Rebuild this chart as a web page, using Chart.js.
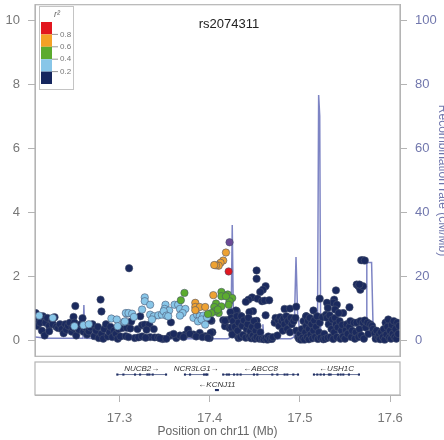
<!DOCTYPE html>
<html>
<head>
<meta charset="utf-8">
<title>rs2074311</title>
<script src="https://cdn.jsdelivr.net/npm/chart.js@4/dist/chart.umd.min.js"></script>
<style>
    html, body { margin: 0; padding: 0; background: #fff; width: 444px; height: 440px; overflow: hidden; }
    canvas { position: absolute; left: 0; filter: blur(0.45px); }
    #assoc-chart { top: 0; }
    #gene-chart { top: 358px; }
</style>
</head>
<body>
<canvas id="assoc-chart" width="450" height="361"></canvas>
<canvas id="gene-chart" width="450" height="82"></canvas>
<script>
// --- Data ---
const titleText = 'rs2074311';
const leftTicks = [0, 2, 4, 6, 8, 10];
const rightTicks = [0, 20, 40, 60, 80, 100];
const posTicks = [17.3, 17.4, 17.5, 17.6];
const legendLevels = ['0.8', '0.6', '0.4', '0.2'];

// recombination rate
const recombX = [17.206, 17.22, 17.2595, 17.2605, 17.2615, 17.30, 17.31, 17.315, 17.37, 17.42, 17.4235, 17.425, 17.4265, 17.428, 17.458, 17.459, 17.46, 17.49, 17.4935, 17.4957, 17.4975, 17.4985, 17.5, 17.5185, 17.5195, 17.5208, 17.522, 17.523, 17.524, 17.574, 17.5742, 17.5795, 17.5814, 17.59, 17.611];
const recombY = [1, 0.6, 0.6, 11, 0.6, 0.5, 1.2, 0.5, 0.5, 0.5, 1, 36, 2, 0.6, 0.6, 5, 0.5, 0.5, 1, 26, 8, 7, 0.5, 0.5, 3, 76.6, 70, 3, 0.5, 0.5, 24.3, 24.3, 1, 0.5, 0.5];

// r2 < 0.2
const navyX = [17.207, 17.207, 17.209, 17.21, 17.212, 17.214, 17.215, 17.217, 17.218, 17.22, 17.222, 17.222, 17.225, 17.226, 17.228, 17.23, 17.232, 17.234, 17.236, 17.238, 17.24, 17.241, 17.243, 17.245, 17.247, 17.248, 17.249, 17.25, 17.251, 17.252, 17.253, 17.255, 17.257, 17.259, 17.26, 17.262, 17.264, 17.266, 17.268, 17.27, 17.272, 17.274, 17.276, 17.277, 17.279, 17.28, 17.28, 17.282, 17.283, 17.285, 17.287, 17.289, 17.29, 17.292, 17.294, 17.296, 17.298, 17.299, 17.301, 17.303,
    17.308, 17.307, 17.3106, 17.312, 17.313, 17.323, 17.32, 17.325, 17.328, 17.333, 17.33, 17.338, 17.317, 17.321, 17.334, 17.339, 17.343, 17.348, 17.357, 17.356, 17.363, 17.367, 17.373, 17.376, 17.382, 17.389, 17.395, 17.40, 17.403, 17.402, 17.401, 17.401,
    17.31, 17.325, 17.329, 17.345, 17.352, 17.36, 17.371, 17.378, 17.385, 17.392, 17.398,
    17.415, 17.419, 17.417, 17.422, 17.426, 17.425, 17.43, 17.417, 17.424, 17.425, 17.432,
    17.452, 17.452, 17.462, 17.459, 17.456, 17.447, 17.443, 17.44, 17.453, 17.458, 17.461, 17.466, 17.483, 17.489, 17.496, 17.462, 17.522, 17.54, 17.538, 17.537, 17.53, 17.541, 17.531, 17.539, 17.555, 17.548, 17.57, 17.568, 17.572, 17.563, 17.565, 17.567, 17.57, 17.566, 17.515, 17.448, 17.444, 17.429, 17.423, 17.507, 17.435, 17.452,
    17.424, 17.426, 17.428, 17.43, 17.431, 17.432, 17.434, 17.435, 17.436, 17.437, 17.438, 17.44, 17.441, 17.442, 17.443, 17.444, 17.445, 17.446, 17.447, 17.448, 17.449, 17.45, 17.451, 17.452, 17.453, 17.455, 17.456, 17.458, 17.46, 17.462, 17.464, 17.465, 17.467, 17.469, 17.47, 17.472, 17.473, 17.475, 17.476, 17.477, 17.478, 17.48, 17.481, 17.482, 17.483, 17.485, 17.486, 17.487, 17.489, 17.49, 17.491, 17.493, 17.495, 17.496, 17.498, 17.499, 17.5, 17.501, 17.502, 17.503, 17.504, 17.505, 17.506, 17.507, 17.507, 17.508, 17.509, 17.51, 17.51, 17.511, 17.512, 17.513, 17.514, 17.515, 17.516, 17.517, 17.518, 17.519, 17.52, 17.521, 17.522, 17.523, 17.525, 17.526, 17.527, 17.528, 17.529, 17.53, 17.531, 17.532, 17.533, 17.534, 17.535, 17.536, 17.537, 17.538, 17.539, 17.54, 17.541, 17.542, 17.543, 17.544, 17.545, 17.546, 17.547, 17.548, 17.55, 17.551, 17.552, 17.553, 17.555, 17.556, 17.557, 17.558, 17.56, 17.561, 17.562, 17.563, 17.565, 17.566, 17.567, 17.568, 17.57, 17.571, 17.572, 17.573, 17.575, 17.576, 17.578, 17.58, 17.581, 17.583, 17.584, 17.585, 17.587, 17.588, 17.589, 17.59, 17.592, 17.593, 17.594, 17.595, 17.596, 17.597, 17.598, 17.599, 17.6, 17.601, 17.602, 17.603, 17.604, 17.605, 17.606, 17.607, 17.608, 17.609, 17.61];
const navyY = [0.85, 0.6, 0.45, 0.7, 0.55, 0.3, 0.75, 0.15, 0.55, 0.7, 0.45, 0.28, 0.62, 0.5, 0.72, 0.42, 0.38, 0.5, 0.35, 0.22, 0.5, 0.33, 0.45, 0.55, 0.27, 0.4, 0.73, 0.55, 1.07, 0.15, 0.42, 0.33, 0.5, 0.69, 0.27, 0.4, 0.18, 0.28, 0.4, 0.5, 0.13, 0.3, 0.42, 0.07, 1.27, 0.9, 0.2, 0.05, 0.35, 0.5, 0.12, 0.25, 0.42, 0.1, 0.3, 0.2, 0.05, 0.35, 0.12, 0.38,
    0.39, 0.13, 2.25, 0.37, 0.59, 0.75, 0.35, 0.47, 0.49, 0.49, 0.33, 0.35, 0.07, 0.09, 0.1, 0.09, 0.09, 0.04, 0.56, 0.15, 0.07, 0.15, 0.18, 0.33, 0.18, 0.23, 0.13, 0.07, 0.25, 0.61, 0.63, 0.23,
    0.1, 0.12, 0.08, 0.06, 0.05, 0.2, 0.1, 0.2, 0.12, 0.1, 0.08,
    0.63, 0.63, 0.44, 0.38, 0.23, 0.83, 0.91, 0.61, 0.4, 0.18, 0.07,
    2.18, 1.92, 1.69, 1.58, 1.51, 1.34, 1.27, 1.2, 1.3, 1.22, 1.24, 1.25, 0.98, 0.99, 1.05, 0.78, 1.3, 1.56, 1.27, 1.17, 1.17, 1.11, 1.01, 0.96, 1.03, 0.85, 2.5, 2.5, 2.49, 1.74, 1.69, 1.58, 1.69, 1.74, 0.93, 0.91, 0.88, 0.93, 0.88, 0.75, 0.75, 0.61,
    0.7, 0.6, 0.42, 0.75, 0.3, 0.55, 0.1, 0.75, 0.45, 0.17, 0.62, 0.08, 0.35, 0.5, 0.7, 0.12, 0.28, 0.06, 0.42, 0.15, 0.6, 0.05, 0.3, 0.1, 0.45, 0.05, 0.25, 0.05, 0.03, 0.06, 0.02, 0.12, 0.05, 0.04, 0.1, 0.55, 0.7, 0.15, 0.62, 0.45, 0.72, 0.6, 0.3, 0.68, 0.5, 0.75, 0.35, 0.6, 0.25, 0.7, 0.5, 0.6, 0.7, 0.3, 0.1, 0.05, 0.2, 0.02, 0.35, 0.08, 0.6, 0.02, 0.25, 0.75, 0.45, 0.1, 0.6, 0.03, 0.35, 0.7, 0.18, 0.5, 0.06, 0.3, 0.62, 0.1, 0.42, 0.75, 0.04, 0.25, 0.55, 0.08, 0.72, 0.03, 0.2, 0.05, 0.8, 0.7, 0.08, 0.5, 0.78, 0.1, 0.35, 0.65, 0.04, 0.25, 0.7, 0.5, 0.1, 0.4, 0.85, 0.6, 0.05, 0.3, 0.48, 0.12, 0.05, 0.32, 0.5, 0.2, 0.42, 0.6, 0.1, 0.3, 0.55, 0.05, 0.25, 0.55, 0.1, 0.35, 0.6, 0.15, 0.55, 0.05, 0.62, 0.4, 0.55, 0.2, 0.5, 0.45, 0.35, 0.22, 0.05, 0.3, 0.1, 0.18, 0.03, 0.25, 0.1, 0.35, 0.02, 0.55, 0.18, 0.42, 0.65, 0.08, 0.3, 0.05, 0.48, 0.2, 0.6, 0.1, 0.35, 0.05, 0.55, 0.2, 0.45];

// 0.2 - 0.4
const lightX = [17.211, 17.226, 17.25, 17.26, 17.266, 17.291, 17.297, 17.298, 17.305, 17.308, 17.328, 17.328, 17.334, 17.325, 17.307, 17.31, 17.314, 17.316, 17.306, 17.334, 17.338, 17.343, 17.347, 17.336, 17.351, 17.35, 17.355, 17.349, 17.352, 17.354, 17.361, 17.365, 17.367, 17.373, 17.37, 17.367, 17.382, 17.386, 17.389, 17.393, 17.387, 17.391, 17.395, 17.397];
const lightY = [0.77, 0.7, 0.44, 0.47, 0.5, 0.68, 0.65, 0.44, 0.57, 0.83, 1.34, 1.22, 1.11, 0.96, 0.85, 0.85, 0.83, 0.73, 0.59, 0.8, 0.75, 0.78, 0.8, 0.65, 1.11, 0.98, 0.93, 0.91, 0.77, 0.75, 1.11, 1.11, 0.98, 0.98, 0.85, 0.77, 0.7, 0.8, 0.75, 0.77, 0.59, 0.65, 0.49, 0.72];

// 0.4 - 0.6
const greenX = [17.372, 17.368, 17.413, 17.413, 17.42, 17.425, 17.422, 17.421, 17.407, 17.405, 17.413, 17.41, 17.406, 17.402, 17.418, 17.409, 17.398];
const greenY = [1.48, 1.25, 1.51, 1.375, 1.43, 1.32, 1.22, 1.11, 1.15, 1.04, 1.06, 0.85, 0.91, 0.85, 1.375, 0.96, 0.82];

// 0.6 - 0.8
const orangeX = [17.418, 17.415, 17.412, 17.41, 17.407, 17.405, 17.404, 17.384, 17.384, 17.389, 17.395, 17.384];
const orangeY = [2.74, 2.49, 2.42, 2.33, 2.34, 2.35, 1.41, 1.17, 1.04, 1.04, 1.04, 0.94];

// > 0.8 and the lead snp
const redX = [17.421];
const redY = [2.15];
const leadX = [17.422];
const leadY = [3.06];

// genes
const geneNames = ['NUCB2', 'NCR3LG1', 'ABCC8', 'USH1C', 'KCNJ11'];
const geneLabels = ['NUCB2→', 'NCR3LG1→', '←ABCC8', '←USH1C', '←KCNJ11'];
const geneStarts = [17.2976, 17.3726, 17.415, 17.5156, 17.406];
const geneEnds = [17.3516, 17.3974, 17.4979, 17.5655, 17.41];
const geneTracks = [1, 1, 1, 1, 2];
const exonX = [17.2976, 17.3043, 17.3172, 17.3228, 17.3309, 17.3331, 17.3368, 17.3516, 17.3726, 17.3782, 17.3937, 17.396, 17.3974, 17.415, 17.419, 17.4214, 17.427, 17.4307, 17.4343, 17.4491, 17.4528, 17.4694, 17.475, 17.4831, 17.486, 17.4927, 17.4979, 17.5156, 17.5193, 17.523, 17.5267, 17.5322, 17.5341, 17.5422, 17.5452, 17.5481, 17.5544, 17.5655, 17.407, 17.409];
const exonTrack = [1, 1, 1, 1, 1, 1, 1, 1, 1, 1, 1, 1, 1, 1, 1, 1, 1, 1, 1, 1, 1, 1, 1, 1, 1, 1, 1, 1, 1, 1, 1, 1, 1, 1, 1, 1, 1, 1, 2, 2];

// --- Helpers ---
const FONT = '"Liberation Sans", Arial, sans-serif';
const GREY_AXIS = '#b4b4b4';
const GREY_TEXT = '#777777';
const BLUE_TEXT = '#7177ad';
const LEGEND_COLORS = ['#e2171f', '#f4a126', '#5cab2f', '#88c6e8', '#15265e'];

function zip(xs, ys) {
    return xs.map((x, i) => ({ x: x, y: ys[i] }));
}

function pointSet(xs, ys, color, order) {
    return {
        data: zip(xs, ys),
        yAxisID: 'y',
        order: order,
        pointRadius: 3.7,
        pointBackgroundColor: color,
        pointBorderColor: 'rgba(70, 80, 110, 0.8)',
        pointBorderWidth: 0.7,
        showLine: false
    };
}

function fixTicks(list) {
    return scale => { scale.ticks = list.map(v => ({ value: v })); };
}

// stop the first and last tick label from pushing the plot area in
function fitY(width) {
    return s => {
        s.width = width;
        s.paddingTop = 0;
        s.paddingBottom = 0;
    };
}

const frame = {
    id: 'frame',
    afterDatasetsDraw(chart) {
        const a = chart.chartArea;
        const ctx = chart.ctx;
        ctx.save();
        ctx.strokeStyle = GREY_AXIS;
        ctx.lineWidth = 1.2;
        ctx.strokeRect(a.left, a.top, a.right - a.left, a.bottom - a.top);
        ctx.restore();
    }
};

// title and r2 key
const overlay = {
    id: 'overlay',
    afterDraw(chart) {
        const ctx = chart.ctx;
        ctx.save();
        ctx.fillStyle = '#222';
        ctx.font = '13px ' + FONT;
        ctx.textAlign = 'center';
        ctx.textBaseline = 'middle';
        ctx.fillText(titleText, 229, 24);

        ctx.fillStyle = '#fff';
        ctx.strokeStyle = '#c4c4c4';
        ctx.lineWidth = 1;
        ctx.fillRect(39.5, 6.5, 34, 83);
        ctx.strokeRect(39.5, 6.5, 34, 83);

        ctx.fillStyle = '#666';
        ctx.font = 'italic 9px ' + FONT;
        ctx.fillText('r²', 57, 14);

        const barTop = 22;
        const step = 12.4;
        LEGEND_COLORS.forEach((c, i) => {
            ctx.fillStyle = c;
            ctx.fillRect(41, barTop + i * step, 11, step);
        });
        ctx.font = '8px ' + FONT;
        ctx.textAlign = 'left';
        legendLevels.forEach((t, i) => {
            const y = barTop + (i + 1) * step;
            ctx.strokeStyle = '#999';
            ctx.beginPath();
            ctx.moveTo(52, y);
            ctx.lineTo(58, y);
            ctx.stroke();
            ctx.fillStyle = '#777';
            ctx.fillText(t, 60, y);
        });
        ctx.restore();
    }
};

const geneText = {
    id: 'geneText',
    afterDraw(chart) {
        const ctx = chart.ctx;
        const xs = chart.scales.x;
        const ys = chart.scales.y;
        ctx.save();
        ctx.fillStyle = '#333';
        ctx.font = 'italic 8px ' + FONT;
        ctx.textAlign = 'center';
        ctx.textBaseline = 'middle';
        geneNames.forEach((name, i) => {
            const mid = (geneStarts[i] + geneEnds[i]) / 2;
            ctx.fillText(geneLabels[i], xs.getPixelForValue(mid), ys.getPixelForValue(geneTracks[i]) - 5.5);
        });
        ctx.restore();
    }
};

// --- Charts ---
const assocChart = new Chart(document.getElementById('assoc-chart'), {
    type: 'scatter',
    data: {
        datasets: [
            {
                data: zip(recombX, recombY),
                yAxisID: 'yRate',
                order: 9,
                showLine: true,
                borderColor: '#7d84c4',
                borderWidth: 1.5,
                pointRadius: 0,
                tension: 0
            },
            pointSet(navyX, navyY, '#1b2a5e', 6),
            pointSet(lightX, lightY, '#88c6e8', 5),
            pointSet(greenX, greenY, '#5cab2f', 4),
            pointSet(orangeX, orangeY, '#eea232', 3),
            pointSet(redX, redY, '#e2171f', 2),
            pointSet(leadX, leadY, '#6a4a96', 1)
        ]
    },
    options: {
        responsive: false,
        animation: false,
        devicePixelRatio: 1,
        layout: { padding: { top: 3, bottom: 0, left: 0, right: 0 } },
        plugins: { legend: { display: false }, tooltip: { enabled: false } },
        scales: {
            x: { type: 'linear', min: 17.2063, max: 17.611, display: false },
            y: {
                position: 'left',
                min: -0.5,
                max: 10.48,
                afterBuildTicks: fixTicks(leftTicks),
                afterFit: fitY(35),
                border: { color: GREY_AXIS },
                grid: { drawOnChartArea: false, tickLength: 7, tickColor: GREY_AXIS },
                ticks: { color: GREY_TEXT, padding: 8, font: { family: FONT, size: 13 } }
            },
            yRate: {
                position: 'right',
                min: -5,
                max: 104.8,
                afterBuildTicks: fixTicks(rightTicks),
                afterFit: fitY(50),
                border: { color: GREY_AXIS },
                grid: { drawOnChartArea: false, tickLength: 7, tickColor: GREY_AXIS },
                ticks: { color: BLUE_TEXT, padding: 8, font: { family: FONT, size: 13 } },
                title: {
                    display: true,
                    text: 'Recombination rate (cM/Mb)',
                    color: BLUE_TEXT,
                    padding: { top: 0, bottom: 1 },
                    font: { family: FONT, size: 12 }
                }
            }
        }
    },
    plugins: [frame, overlay]
});

const geneChart = new Chart(document.getElementById('gene-chart'), {
    type: 'scatter',
    data: {
        datasets: geneNames.map((name, i) => ({
            label: name,
            data: [{ x: geneStarts[i], y: geneTracks[i] }, { x: geneEnds[i], y: geneTracks[i] }],
            showLine: true,
            borderColor: '#2b3a70',
            borderWidth: 0.7,
            pointRadius: 0
        })).concat([{
            label: 'exons',
            data: zip(exonX, exonTrack),
            showLine: false,
            pointStyle: 'rect',
            pointRadius: 1.5,
            pointBackgroundColor: '#1b2a5e',
            pointBorderWidth: 0
        }])
    },
    options: {
        responsive: false,
        animation: false,
        devicePixelRatio: 1,
        layout: { padding: { top: 4, bottom: 0, left: 35, right: 50 } },
        plugins: { legend: { display: false }, tooltip: { enabled: false } },
        scales: {
            x: {
                type: 'linear',
                min: 17.2063,
                max: 17.611,
                afterBuildTicks: fixTicks(posTicks),
                afterFit: s => { s.height = 45; s.paddingLeft = 0; s.paddingRight = 0; },
                border: { color: GREY_AXIS },
                grid: { drawOnChartArea: false, tickLength: 7, tickColor: GREY_AXIS },
                ticks: {
                    color: GREY_TEXT,
                    padding: 9,
                    maxRotation: 0,
                    font: { family: FONT, size: 13 },
                    callback: v => v.toFixed(1)
                },
                title: {
                    display: true,
                    text: 'Position on chr11 (Mb)',
                    color: '#666666',
                    padding: { top: 0, bottom: 1 },
                    font: { family: FONT, size: 12 }
                }
            },
            y: { reverse: true, min: 0.19, max: 2.32, display: false }
        }
    },
    plugins: [frame, geneText]
});
</script>
</body>
</html>
